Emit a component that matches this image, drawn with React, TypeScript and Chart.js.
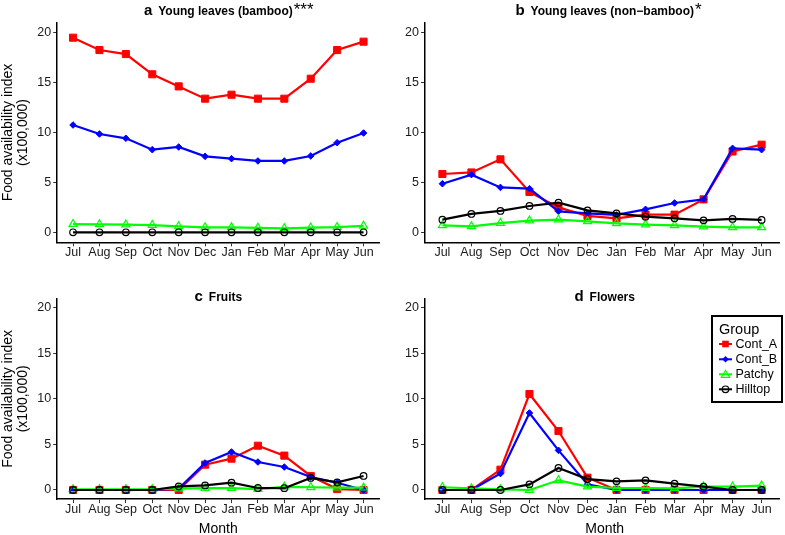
import React, { useEffect, useRef } from 'react';
import { Chart, registerables } from 'chart.js';

Chart.register(...registerables);

// ---------- data ----------
const months = ['Jul', 'Aug', 'Sep', 'Oct', 'Nov', 'Dec', 'Jan', 'Feb', 'Mar', 'Apr', 'May', 'Jun'];
const yTicks = [0, 5, 10, 15, 20];
const groups = ['Cont_A', 'Cont_B', 'Patchy', 'Hilltop'];

// a: Young leaves (bamboo)
const bambooContA = [19.5, 18.26, 17.86, 15.83, 14.62, 13.39, 13.79, 13.39, 13.39, 15.39, 18.26, 19.1];
const bambooContB = [10.75, 9.85, 9.42, 8.28, 8.55, 7.61, 7.38, 7.15, 7.15, 7.65, 8.98, 9.95];
const bambooPatchy = [0.83, 0.8, 0.77, 0.73, 0.6, 0.5, 0.5, 0.45, 0.4, 0.47, 0.53, 0.65];
const bambooHilltop = [0, 0, 0, 0, 0, 0, 0, 0, 0, 0, 0, 0];

// b: Young leaves (non-bamboo)
const nonBambooContA = [5.84, 6.0, 7.31, 4.04, 2.5, 1.64, 1.4, 1.77, 1.77, 3.3, 8.1, 8.78];
const nonBambooContB = [4.87, 5.78, 4.5, 4.37, 2.1, 1.9, 1.74, 2.3, 2.94, 3.3, 8.41, 8.28];
const nonBambooPatchy = [0.7, 0.6, 0.93, 1.17, 1.27, 1.1, 0.9, 0.77, 0.7, 0.57, 0.5, 0.5];
const nonBambooHilltop = [1.27, 1.84, 2.14, 2.64, 2.97, 2.2, 1.9, 1.57, 1.4, 1.2, 1.34, 1.24];

// c: Fruits
const fruitsContA = [0, 0, 0, 0, 0, 2.78, 3.44, 4.86, 3.77, 1.54, 0.1, 0];
const fruitsContB = [0, 0, 0, 0, 0.15, 2.96, 4.17, 3.07, 2.52, 1.43, 0.8, 0];
const fruitsPatchy = [0.08, 0.08, 0.08, 0.08, 0.15, 0.2, 0.2, 0.1, 0.35, 0.3, 0.25, 0.25];
const fruitsHilltop = [0, 0, 0, 0, 0.4, 0.5, 0.8, 0.22, 0.2, 1.32, 0.84, 1.54];

// d: Flowers
const flowersContA = [0, 0, 2.23, 10.53, 6.47, 1.35, 0, 0, 0, 0, 0, 0];
const flowersContB = [0, 0, 1.8, 8.45, 4.35, 0.62, 0, 0, 0, 0, 0, 0];
const flowersPatchy = [0.3, 0.18, 0.07, 0, 1.06, 0.37, 0.22, 0.22, 0.18, 0.37, 0.37, 0.48];
const flowersHilltop = [0, 0, 0, 0.62, 2.41, 1.2, 0.95, 1.06, 0.7, 0.37, 0, 0];

// ---------- styles ----------
const W = 785;
const H = 535;
const FONT = '"Liberation Sans", Arial, Helvetica, sans-serif';

const groupStyles = [
  { color: '#FF0000', pointStyle: 'rect', radius: 5, open: false },
  { color: '#0000FF', pointStyle: 'rectRot', radius: 3.3, open: false },
  { color: '#00FF00', pointStyle: 'triangle', radius: 4.6, open: true },
  { color: '#000000', pointStyle: 'circle', radius: 3.3, open: true },
];

type PanelDef = {
  letter: string;
  title: string;
  stars: string;
  series: number[][];
  area: { left: number; right: number; top: number; bottom: number };
  titleBaseline: number;
  yTitle: boolean;
  xTitle: boolean;
  legend: boolean;
};

const panels: PanelDef[] = [
  {
    letter: 'a', title: 'Young leaves (bamboo)', stars: '***',
    series: [bambooContA, bambooContB, bambooPatchy, bambooHilltop],
    area: { left: 57.2, right: 379.4, top: 22.7, bottom: 242.3 },
    titleBaseline: 15, yTitle: true, xTitle: false, legend: false,
  },
  {
    letter: 'b', title: 'Young leaves (non\u2212bamboo)', stars: '*',
    series: [nonBambooContA, nonBambooContB, nonBambooPatchy, nonBambooHilltop],
    area: { left: 425, right: 784.4, top: 22.7, bottom: 242.3 },
    titleBaseline: 15, yTitle: false, xTitle: false, legend: false,
  },
  {
    letter: 'c', title: 'Fruits', stars: '',
    series: [fruitsContA, fruitsContB, fruitsPatchy, fruitsHilltop],
    area: { left: 57.2, right: 379.4, top: 298.6, bottom: 499.1 },
    titleBaseline: 301, yTitle: true, xTitle: true, legend: false,
  },
  {
    letter: 'd', title: 'Flowers', stars: '',
    series: [flowersContA, flowersContB, flowersPatchy, flowersHilltop],
    area: { left: 425, right: 784.4, top: 298.6, bottom: 499.1 },
    titleBaseline: 301, yTitle: false, xTitle: true, legend: true,
  },
];

function drawMarker(ctx: CanvasRenderingContext2D, idx: number, x: number, y: number) {
  const s = groupStyles[idx];
  ctx.save();
  ctx.strokeStyle = s.color;
  ctx.fillStyle = s.color;
  ctx.lineWidth = 1.2;
  ctx.beginPath();
  if (idx === 0) {
    ctx.rect(x - 3.3, y - 3.3, 6.6, 6.6);
    ctx.fill();
  } else if (idx === 1) {
    ctx.moveTo(x, y - 3.3); ctx.lineTo(x + 3.3, y); ctx.lineTo(x, y + 3.3); ctx.lineTo(x - 3.3, y);
    ctx.closePath(); ctx.fill();
  } else if (idx === 2) {
    ctx.moveTo(x, y - 4); ctx.lineTo(x + 4.2, y + 3); ctx.lineTo(x - 4.2, y + 3);
    ctx.closePath(); ctx.stroke();
  } else {
    ctx.arc(x, y, 3.3, 0, Math.PI * 2); ctx.stroke();
  }
  ctx.restore();
}

function makeTextPlugin(p: PanelDef) {
  return {
    id: 'panelText' + p.letter,
    afterDraw(chart: any) {
      const ctx: CanvasRenderingContext2D = chart.ctx;
      const { left, right, top, bottom } = p.area;
      const cx = (left + right) / 2;
      ctx.save();
      ctx.fillStyle = '#000';
      ctx.textBaseline = 'alphabetic';
      ctx.textAlign = 'left';
      // title
      const fL = `bold 15px ${FONT}`;
      const fT = `bold 12px ${FONT}`;
      ctx.font = fL;
      const wL = ctx.measureText(p.letter).width;
      ctx.font = fT;
      const wT = ctx.measureText(p.title).width;
      const gap = 6;
      const x0 = cx - (wL + gap + wT) / 2;
      ctx.font = fL;
      ctx.fillText(p.letter, x0, p.titleBaseline);
      ctx.font = fT;
      ctx.fillText(p.title, x0 + wL + gap, p.titleBaseline);
      if (p.stars) {
        ctx.font = `17px ${FONT}`;
        ctx.fillText(p.stars, x0 + wL + gap + wT + 1, p.titleBaseline - 0.5);
      }
      // y title
      if (p.yTitle) {
        const cy = (top + bottom) / 2;
        ctx.save();
        ctx.font = `14px ${FONT}`;
        ctx.textAlign = 'center';
        ctx.translate(12, cy);
        ctx.rotate(-Math.PI / 2);
        ctx.fillText('Food availability index', 0, 0);
        ctx.restore();
        ctx.save();
        ctx.font = `14px ${FONT}`;
        ctx.textAlign = 'center';
        ctx.translate(27, cy);
        ctx.rotate(-Math.PI / 2);
        ctx.fillText('(x100,000)', 0, 0);
        ctx.restore();
      }
      // x title
      if (p.xTitle) {
        ctx.font = `14px ${FONT}`;
        ctx.textAlign = 'center';
        ctx.fillText('Month', cx, 533);
      }
      // legend
      if (p.legend) {
        ctx.lineWidth = 2;
        ctx.strokeStyle = '#000';
        ctx.strokeRect(712, 316, 70, 86);
        ctx.font = `14.5px ${FONT}`;
        ctx.textAlign = 'left';
        ctx.fillText('Group', 719, 334);
        ctx.font = `12.5px ${FONT}`;
        const ys = [344, 359.3, 374.3, 389.3];
        groups.forEach((g, i) => {
          const y = ys[i];
          ctx.save();
          ctx.strokeStyle = groupStyles[i].color;
          ctx.lineWidth = 2;
          ctx.beginPath();
          ctx.moveTo(719, y);
          ctx.lineTo(732, y);
          ctx.stroke();
          ctx.restore();
          drawMarker(ctx, i, 725.5, y);
          ctx.fillStyle = '#000';
          ctx.textBaseline = 'middle';
          ctx.fillText(g, 735.5, y + 0.5);
        });
      }
      ctx.restore();
    },
  };
}

function makeFit(size: number) {
  return (s: any) => {
    if (s.isHorizontal()) s.height = size; else s.width = size;
    s.paddingTop = 0;
    s.paddingBottom = 0;
    s.paddingLeft = 0;
    s.paddingRight = 0;
  };
}

function Panel({ p }: { p: PanelDef }) {
  const ref = useRef<HTMLCanvasElement>(null);
  useEffect(() => {
    if (!ref.current) return;
    const tickFont = { family: FONT, size: 12.5, lineHeight: 1 };
    const grid = {
      display: true,
      drawOnChartArea: false,
      drawTicks: true,
      tickLength: 4,
      color: '#333',
      lineWidth: 1,
    };
    const border = { display: true, color: '#000', width: 1.5 };
    const datasets = p.series.map((vals, i) => {
      const s = groupStyles[i];
      return {
        label: groups[i],
        data: vals.map((v, k) => ({ x: k, y: v })),
        borderColor: s.color,
        backgroundColor: s.color,
        borderWidth: 2.2,
        pointStyle: s.pointStyle,
        pointRadius: s.radius,
        pointBorderColor: s.color,
        pointBackgroundColor: s.open ? 'rgba(0,0,0,0)' : s.color,
        pointBorderWidth: s.open ? 1.2 : 1,
        tension: 0,
        fill: false,
        order: 4 - i,
      };
    });
    const chart = new Chart(ref.current, {
      type: 'line',
      data: { datasets } as any,
      options: {
        responsive: false,
        animation: false,
        devicePixelRatio: 1,
        layout: {
          padding: {
            left: 0,
            right: W - p.area.right,
            top: p.area.top,
            bottom: 0,
          },
        },
        plugins: { legend: { display: false }, tooltip: { enabled: false }, title: { display: false } },
        scales: {
          x: {
            type: 'linear',
            min: -0.6,
            max: 11.6,
            afterBuildTicks: (s: any) => { s.ticks = months.map((_, i) => ({ value: i })); },
            afterFit: makeFit(H - p.area.bottom),
            ticks: {
              font: tickFont,
              color: '#1a1a1a',
              padding: 0,
              autoSkip: false,
              maxRotation: 0,
              minRotation: 0,
              callback: (v: any) => months[Math.round(Number(v))],
            },
            grid,
            border,
          },
          y: {
            type: 'linear',
            min: -1,
            max: 21,
            afterBuildTicks: (s: any) => { s.ticks = yTicks.map((v) => ({ value: v })); },
            afterFit: makeFit(p.area.left),
            ticks: { font: tickFont, color: '#1a1a1a', padding: 2 },
            grid,
            border,
          },
        },
      } as any,
      plugins: [makeTextPlugin(p)],
    });
    return () => chart.destroy();
  }, [p]);
  return (
    <canvas
      ref={ref}
      width={W}
      height={H}
      style={{ position: 'absolute', left: 0, top: 0, width: W, height: H, pointerEvents: 'none' }}
    />
  );
}

export default function App() {
  return (
    <div style={{ position: 'absolute', left: 0, top: 0, width: W, height: H, background: '#fff' }}>
      {panels.map((p) => (
        <Panel key={p.letter} p={p} />
      ))}
    </div>
  );
}
